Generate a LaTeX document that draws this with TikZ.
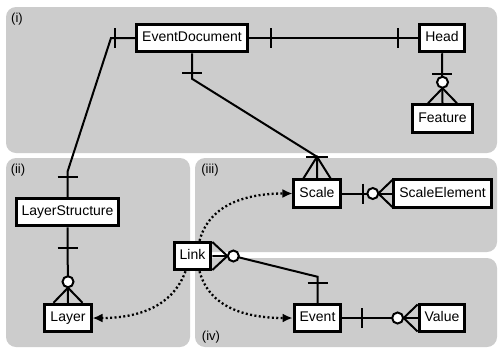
\documentclass[tikz,border=0pt]{standalone}
\usepackage{fontspec}
\setmainfont{Liberation Sans}
\usetikzlibrary{arrows.meta,calc}
\definecolor{panelgray}{RGB}{204,204,204}
\begin{document}
\begin{tikzpicture}[x=1pt,y=-1pt,
  entity/.style={draw,line width=3pt,fill=white,font=\fontsize{14}{16}\selectfont,
    inner xsep=5.5pt,inner ysep=0pt,minimum height=27.5pt,text height=10pt,text depth=3pt},
  rel/.style={line width=2pt},
  refline/.style={line width=2.3pt,dash pattern=on 2pt off 2.4pt,
    -{Latex[length=10pt,width=9pt]}},
  panel/.style={fill=panelgray,rounded corners=10pt},
  tag/.style={font=\fontsize{13}{15}\selectfont,inner sep=0pt}]
% canvas
\fill[white] (0,0) rectangle (500,349);
\useasboundingbox (0,0) rectangle (500,349);
% grouping panels
\fill[panel] (6,7) rectangle (497,153);
\fill[panel] (6,158) rectangle (190,347);
\fill[panel] (195,158) rectangle (497,252);
\fill[panel] (195,258) rectangle (497,347);
\node[tag] (t1) at (17,19) {(i)};
\node[tag] (t2) at (18,170) {(ii)};
\node[tag] (t3) at (210,170) {(iii)};
\node[tag] (t4) at (211,337) {(iv)};
% entities
\node[entity] (ed) at (192,38) {EventDocument};
\node[entity] (head) at (442,38) {Head};
\node[entity] (feat) at (442.5,118.5) {Feature};
\node[entity] (ls) at (67.5,212) {LayerStructure};
\node[entity] (layer) at (68,318) {Layer};
\node[entity] (link) at (192.5,256) {Link};
\node[entity] (scale) at (317,193.5) {Scale};
\node[entity] (se) at (442.5,193.5) {ScaleElement};
\node[entity] (event) at (317.5,318) {Event};
\node[entity] (value) at (442,318) {Value};
% EventDocument -- LayerStructure (one to one)
\coordinate (k1) at (111,38);
\coordinate (k2) at ($(ls.north)+(0,-25)$);
\draw[rel] (ed.west) -- (k1) -- (k2) -- (ls.north);
\draw[rel] ($(ed.west)+(-20.5,-10)$) -- ++(0,20);
\draw[rel] ($(ls.north)+(-10,-20)$) -- ++(20,0);
% EventDocument -- Head (one to one)
\draw[rel] (ed.east) -- (head.west);
\draw[rel] ($(ed.east)+(22,-10)$) -- ++(0,20);
\draw[rel] ($(head.west)+(-20,-10)$) -- ++(0,20);
% Head -- Feature (one to zero or many)
\draw[rel] (head.south) -- (feat.north);
\draw[rel] ($(head.south)+(-10,21)$) -- ++(20,0);
\draw[rel] ($(feat.north)+(-14.5,0)$) -- ($(feat.north)+(0,-15)$) -- ($(feat.north)+(14.5,0)$);
\draw[rel,fill=white] ($(feat.north)+(0,-21)$) circle[radius=5.5pt];
% EventDocument -- Scale (one to one or many)
\coordinate (k3) at ($(ed.south)+(0,25.5)$);
\coordinate (k4) at ($(scale.north)+(0,-21.5)$);
\draw[rel] (ed.south) -- (k3) -- (k4) -- (scale.north);
\draw[rel] ($(ed.south)+(-10,20)$) -- ++(20,0);
\draw[rel] ($(scale.north)+(-11,-21)$) -- ++(22,0);
\draw[rel] ($(scale.north)+(-13.5,0)$) -- (k4) -- ($(scale.north)+(13.5,0)$);
% Scale -- ScaleElement (one to zero or many)
\draw[rel] (scale.east) -- (se.west);
\draw[rel] ($(scale.east)+(21,-10)$) -- ++(0,20);
\draw[rel] ($(se.west)+(0,-13.5)$) -- ($(se.west)+(-14,0)$) -- ($(se.west)+(0,13.5)$);
\draw[rel,fill=white] ($(se.west)+(-19.5,0)$) circle[radius=5.5pt];
% LayerStructure -- Layer (one to zero or many)
\draw[rel] (ls.south) -- (layer.north);
\draw[rel] ($(ls.south)+(-10,21)$) -- ++(20,0);
\draw[rel] ($(layer.north)+(-14.5,0)$) -- ($(layer.north)+(0,-15)$) -- ($(layer.north)+(14.5,0)$);
\draw[rel,fill=white] ($(layer.north)+(0,-21)$) circle[radius=5.5pt];
% Link -- Event (zero or many to one)
\coordinate (k5) at ($(event.north)+(0,-26)$);
\draw[rel] (link.east) -- ($(link.east)+(21,0)$) -- (k5) -- (event.north);
\draw[rel] ($(event.north)+(-10,-20)$) -- ++(20,0);
\draw[rel] ($(link.east)+(0,-14)$) -- ($(link.east)+(15,0)$) -- ($(link.east)+(0,14)$);
\draw[rel,fill=white] ($(link.east)+(21,0)$) circle[radius=5.5pt];
% Event -- Value (one to zero or many)
\draw[rel] (event.east) -- (value.west);
\draw[rel] ($(event.east)+(20,-10)$) -- ++(0,20);
\draw[rel] ($(value.west)+(0,-13.5)$) -- ($(value.west)+(-14,0)$) -- ($(value.west)+(0,13.5)$);
\draw[rel,fill=white] ($(value.west)+(-20,0)$) circle[radius=5.5pt];
% links to the referenced entities
\draw[refline] ($(link.north)+(7,0)$) to[out=75,in=180] (scale.west);
\draw[refline] ($(link.south)+(7,0)$) to[out=-75,in=180] (event.west);
\draw[refline] ($(link.south)+(-7,0)$) to[out=-110,in=0] (layer.east);
\end{tikzpicture}
\end{document}
